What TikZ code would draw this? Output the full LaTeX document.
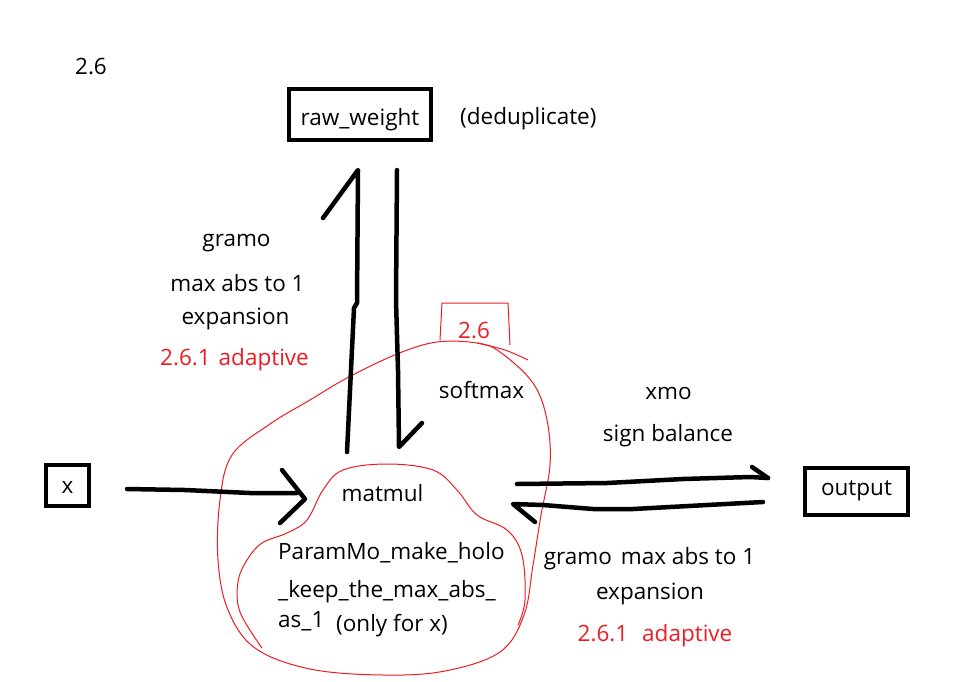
\documentclass[tikz,border=0pt]{standalone}
\usepackage{fontspec}
\setmainfont{Open Sans}
\usetikzlibrary{positioning}

\definecolor{paintred}{RGB}{237,28,36}

\tikzset{
    txt/.style = {font=\fontsize{22.5}{26}\selectfont, inner sep=0pt},
    redtxt/.style = {txt, text=paintred},
    blockbox/.style = {draw, line width=4pt, txt},
    hand/.style = {line width=4.5pt, line cap=round, line join=round},
    blob/.style = {paintred, line width=1pt}
}

\begin{document}
\begin{tikzpicture}[x=1pt, y=-1pt]

    \useasboundingbox (0,0) rectangle (953,681);

    % version tag
    \node[txt] (ver) at (91,67) {2.6};

    %% draw boxes
    \node[blockbox, minimum width=142pt, minimum height=51pt, text height=24pt, text depth=3pt] (raw) at (360,114.5) {raw\_weight};
    \node[txt, right=27pt of raw, yshift=-4pt] (dedup) {(deduplicate)};

    \node[blockbox, minimum width=43pt, minimum height=41pt, text height=15pt, text depth=0pt] (xin) at (67.5,485.5) {x};

    \node[blockbox, minimum width=103pt, minimum height=47pt, text height=14pt, text depth=7pt] (out) at (856.5,491.5) {output};

    % inside the red blobs
    \node[txt] (mm) at (382.5,493) {matmul};
    \node[txt, anchor=west] (pm1) at (278,553) {ParamMo\_make\_holo};
    \node[txt, anchor=west] (pm2) at (278,592) {\_keep\_the\_max\_abs\_};
    \node[txt, anchor=west] (pm3) at (278,621) {as\_1};
    \node[txt, anchor=west] (only) at (336,626) {(only for x)};
    \node[txt] (soft) at (481.5,390) {softmax};

    % labels of the weight path
    \node[txt] (wgramo) at (236.5,243) {gramo};
    \node[txt] (wmax) at (237.5,283) {max abs to 1};
    \node[txt] (wexp) at (235.5,319) {expansion};
    \node[redtxt] (wadapt) at (234.5,360) {2.6.1\hspace{8pt}adaptive};

    % labels of the output path
    \node[txt] (xmo) at (668.5,393) {xmo};
    \node[txt] (sign) at (668,436) {sign balance};
    \node[txt] (ogramo) at (649.5,559) {gramo\hspace{9pt}max abs to 1};
    \node[txt] (oexp) at (650,594) {expansion};
    \node[redtxt] (oadapt) at (655,636) {2.6.1\hspace{14pt}adaptive};

    %% draw red blobs
    % outer blob
    \draw[blob] plot[smooth cycle, tension=0.6] coordinates {
        (437,342) (477,343) (500,352) (533,383) (547,420) (550,465)
        (541,515) (533,565) (524,615) (500,652) (445,671) (383,675)
        (310,669) (255,648) (228,610) (218,560) (220,500) (232,455)
        (270,424) (310,400) (347,378) (397,354)};
    \draw[blob] plot[smooth, tension=0.6] coordinates {(477,343) (505,350) (528,360)};

    % inner blob
    \draw[blob] plot[smooth, tension=0.6] coordinates {
        (262,648) (240,612) (238,582) (247,560) (262,543) (287,533)
        (307,520) (323,490) (343,470) (387,464) (433,470) (457,490)
        (477,515) (507,530) (522,555) (525,600) (518,625)};

    % red tag
    \node[redtxt] (tag) at (474,331) {2.6};
    \draw[blob] (440,340) -- (442,303) -- (508,303) -- (510,345);

    %% draw hand arrows
    % x into matmul
    \coordinate (xTail) at (127,489);
    \coordinate (xTip) at (305,499);
    \draw[hand] (xTail) -- (185,490) -- (250,493) -- (297,493);
    \draw[hand] (282,470) -- (xTip) -- (280,523);

    % matmul up to raw_weight
    \coordinate (upTail) at (347,452);
    \coordinate (upTip) at (358,170);
    \draw[hand] (upTail) -- (354,308) -- (357,303) -- (upTip) -- (323,218);

    % raw_weight down to softmax
    \coordinate (dnTail) at (397,170);
    \coordinate (dnTip) at (399,447);
    \draw[hand] (dnTail) -- (396,300) -- (398,370) -- (dnTip) -- (422,423);

    % matmul to output
    \coordinate (fwTail) at (517,484);
    \coordinate (fwTip) at (768,478);
    \draw[hand] (fwTail) -- (607,483) -- (683,479) -- (750,477) -- (fwTip);
    \draw[hand] (752,467) -- (fwTip);

    % output back to matmul
    \coordinate (bwTail) at (763,502);
    \coordinate (bwTip) at (513,504);
    \draw[hand] (bwTail) -- (633,509) -- (593,509) -- (543,505) -- (bwTip) -- (535,522);

\end{tikzpicture}
\end{document}
